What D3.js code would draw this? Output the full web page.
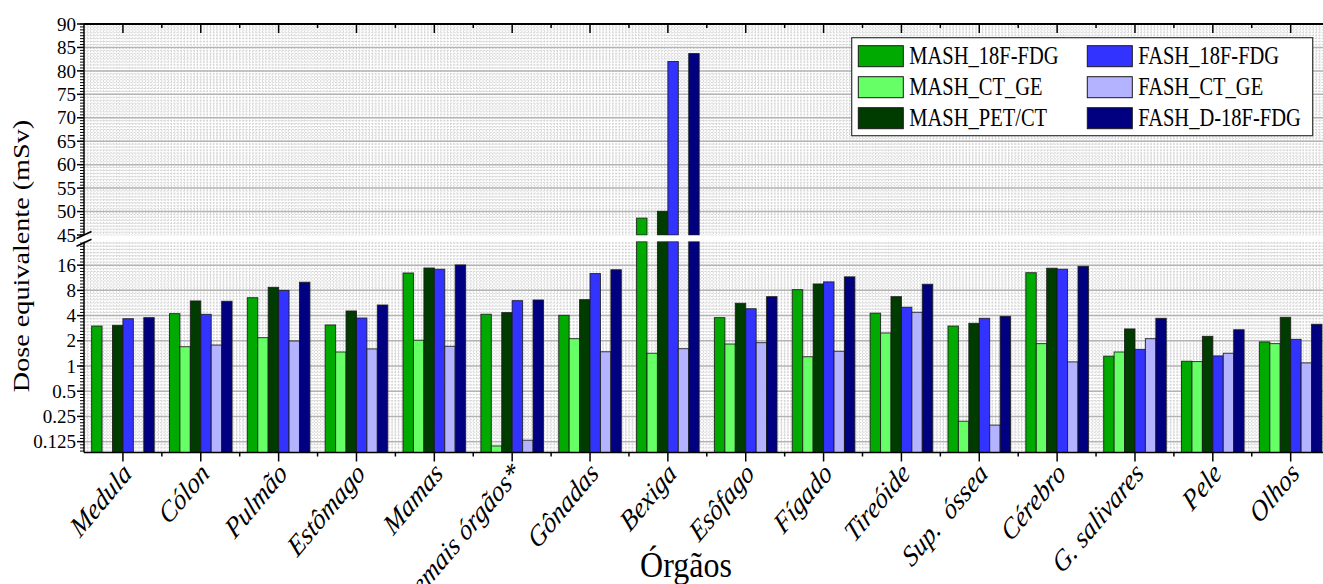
<!DOCTYPE html>
<html>
<head>
<meta charset="utf-8">
<script src="https://cdn.jsdelivr.net/npm/d3@7"></script>
<style>
  body { margin: 0; background: #fff; }
  text { font-family: "Liberation Serif", "Times New Roman", serif; fill: #000; }
</style>
</head>
<body>
<div id="chart"></div>
<script>
const orgaos = ["Medula", "Cólon", "Pulmão", "Estômago", "Mamas", "Demais órgãos*", "Gônadas", "Bexiga",
    "Esôfago", "Fígado", "Tireóide", "Sup.  óssea", "Cérebro", "G. salivares", "Pele", "Olhos"];

const mash18f = [3.0, 4.22, 6.54, 3.09, 12.9, 4.15, 4.03, 48.6, 3.78, 8.16, 4.27, 3.0, 13.0, 1.31, 1.14, 1.94];
const mashCt = [null, 1.70, 2.18, 1.47, 2.03, 0.111, 2.12, 1.42, 1.83, 1.29, 2.48, 0.219, 1.85, 1.47, 1.13, 1.85];
const mashPet = [3.06, 5.98, 8.7, 4.54, 14.8, 4.34, 6.2, 50.05, 5.61, 9.54, 6.73, 3.23, 14.7, 2.77, 2.26, 3.81];
const fash18f = [3.67, 4.14, 8.0, 3.74, 14.3, 6.03, 12.7, 82.0, 4.83, 10.1, 5.03, 3.71, 14.3, 1.58, 1.32, 2.08];
const fashCt = [null, 1.78, 1.99, 1.60, 1.72, 0.13, 1.48, 1.61, 1.90, 1.50, 4.38, 0.197, 1.12, 2.12, 1.42, 1.09];
const fashD18f = [3.78, 5.93, 10.0, 5.35, 16.1, 6.14, 14.1, 83.7, 6.73, 11.6, 9.46, 3.92, 15.5, 3.71, 2.71, 3.15];

const series = [
    {label: "MASH_18F-FDG", color: "#00aa00", values: mash18f},
    {label: "MASH_CT_GE", color: "#66ff66", values: mashCt},
    {label: "MASH_PET/CT", color: "#003c00", values: mashPet},
    {label: "FASH_18F-FDG", color: "#3333ff", values: fash18f},
    {label: "FASH_CT_GE", color: "#b3b3ff", values: fashCt},
    {label: "FASH_D-18F-FDG", color: "#000080", values: fashD18f}
];

const upperTicks = [45, 50, 55, 60, 65, 70, 75, 80, 85, 90];
const lowerTicks = [0.125, 0.25, 0.5, 1, 2, 4, 8, 16];

var W = 1323, H = 584;
var pLeft = 84, pRight = 84 + 16 * 77.85;
var pTop = 24, upBottom = 235, lowTop = 241.7, pBottom = 452.5;

var svg = d3.select("#chart").append("svg")
    .attr("width", W).attr("height", H);

var x = d3.scaleBand()
    .domain(orgaos)
    .range([pLeft, pRight])
    .paddingInner(0.196)
    .paddingOuter(0.098);
var xs = d3.scaleBand()
    .domain(series.map(d => d.label))
    .range([0, x.bandwidth()]);

var yUp = d3.scaleLinear().domain([45, 90]).range([upBottom, pTop]);
var yLow = d3.scaleLog().base(2).domain([0.0927, 30.5]).range([pBottom, lowTop]);

// minor ticks
var upMinor = d3.range(45, 90.001, 0.625);
var lowMinor = [];
for (var e = -32; e <= 40; e++) {
    var v = Math.pow(2, e / 8);
    if (v >= yLow.domain()[0] && v <= yLow.domain()[1]) lowMinor.push(v);
}

// dotted background grid
var grid = svg.append("g");
var step = x.step();
grid.selectAll(".vdot")
    .data(d3.range(pLeft + step / 24, Math.min(pRight, W), step / 24))
    .enter().append("line")
    .attr("x1", d => d).attr("x2", d => d)
    .attr("y1", pTop).attr("y2", pBottom)
    .attr("stroke", "#d4d4d4").attr("stroke-width", 1)
    .attr("stroke-dasharray", "2,1.3");
grid.selectAll(".hup")
    .data(upMinor)
    .enter().append("line")
    .attr("x1", pLeft).attr("x2", W)
    .attr("y1", d => yUp(d)).attr("y2", d => yUp(d))
    .attr("stroke", "#d4d4d4").attr("stroke-width", 1)
    .attr("stroke-dasharray", "2,1.3");
grid.selectAll(".hlow")
    .data(lowMinor)
    .enter().append("line")
    .attr("x1", pLeft).attr("x2", W)
    .attr("y1", d => yLow(d)).attr("y2", d => yLow(d))
    .attr("stroke", "#d4d4d4").attr("stroke-width", 1)
    .attr("stroke-dasharray", "2,1.3");

// major grid
grid.selectAll(".gup")
    .data(upperTicks.filter(d => d > 45 && d < 90))
    .enter().append("line")
    .attr("x1", pLeft).attr("x2", W)
    .attr("y1", d => yUp(d)).attr("y2", d => yUp(d))
    .attr("stroke", "#b4b4b4").attr("stroke-width", 1.5);
grid.selectAll(".glow")
    .data(lowerTicks)
    .enter().append("line")
    .attr("x1", pLeft).attr("x2", W)
    .attr("y1", d => yLow(d)).attr("y2", d => yLow(d))
    .attr("stroke", "#b4b4b4").attr("stroke-width", 1.5);

// Bars
var flat = [];
series.forEach(function(s) {
    s.values.forEach(function(v, i) {
        if (v != null) flat.push({cat: orgaos[i], key: s.label, color: s.color, value: v});
    });
});

var bars = svg.append("g");
bars.selectAll(".low")
    .data(flat)
    .enter().append("rect")
    .attr("x", d => x(d.cat) + xs(d.key))
    .attr("width", xs.bandwidth())
    .attr("y", d => yLow(Math.min(d.value, yLow.domain()[1])))
    .attr("height", d => pBottom - yLow(Math.min(d.value, yLow.domain()[1])))
    .attr("fill", d => d.color)
    .attr("stroke", "#1a1a1a").attr("stroke-opacity", 0.85).attr("stroke-width", 1);
bars.selectAll(".up")
    .data(flat.filter(d => d.value > 45))
    .enter().append("rect")
    .attr("x", d => x(d.cat) + xs(d.key))
    .attr("width", xs.bandwidth())
    .attr("y", d => yUp(d.value))
    .attr("height", d => upBottom - yUp(d.value))
    .attr("fill", d => d.color)
    .attr("stroke", "#1a1a1a").attr("stroke-opacity", 0.85).attr("stroke-width", 1);

// break band
svg.append("rect")
    .attr("x", pLeft - 1).attr("y", upBottom + 0.5)
    .attr("width", W).attr("height", lowTop - upBottom - 1)
    .attr("fill", "#fff");

// axes
var ax = svg.append("g").attr("stroke", "#000");
ax.append("line").attr("x1", pLeft).attr("x2", W).attr("y1", pTop).attr("y2", pTop).attr("stroke-width", 2);
ax.append("line").attr("x1", pLeft).attr("x2", W).attr("y1", pBottom).attr("y2", pBottom).attr("stroke-width", 1.5);
ax.append("line").attr("x1", pLeft).attr("x2", pLeft).attr("y1", pTop).attr("y2", upBottom).attr("stroke-width", 1.5);
ax.append("line").attr("x1", pLeft).attr("x2", pLeft).attr("y1", lowTop).attr("y2", pBottom).attr("stroke-width", 1.5);

var majorX = orgaos.map(d => x(d) + x.bandwidth() / 2);
var minorX = d3.range(1, 17).map(i => pLeft + i * step);
ax.selectAll(".tmaj").data(majorX).enter().append("line")
    .attr("x1", d => d).attr("x2", d => d).attr("y1", pTop).attr("y2", pTop + 9).attr("stroke-width", 1.5);
ax.selectAll(".tmin").data(minorX).enter().append("line")
    .attr("x1", d => d).attr("x2", d => d).attr("y1", pTop).attr("y2", pTop + 4).attr("stroke-width", 1.5);
ax.selectAll(".bmaj").data(majorX).enter().append("line")
    .attr("x1", d => d).attr("x2", d => d).attr("y1", pBottom).attr("y2", pBottom + 9).attr("stroke-width", 1.5);
ax.selectAll(".bmin").data(minorX).enter().append("line")
    .attr("x1", d => d).attr("x2", d => d).attr("y1", pBottom).attr("y2", pBottom + 4).attr("stroke-width", 1.5);

ax.selectAll(".lmu").data(upMinor).enter().append("line")
    .attr("x1", pLeft - 4).attr("x2", pLeft).attr("y1", d => yUp(d)).attr("y2", d => yUp(d)).attr("stroke-width", 1);
ax.selectAll(".lml").data(lowMinor).enter().append("line")
    .attr("x1", pLeft - 4).attr("x2", pLeft).attr("y1", d => yLow(d)).attr("y2", d => yLow(d)).attr("stroke-width", 1);
ax.selectAll(".lMu").data(upperTicks).enter().append("line")
    .attr("x1", pLeft - 7).attr("x2", pLeft).attr("y1", d => yUp(d)).attr("y2", d => yUp(d)).attr("stroke-width", 1.5);
ax.selectAll(".lMl").data(lowerTicks).enter().append("line")
    .attr("x1", pLeft - 7).attr("x2", pLeft).attr("y1", d => yLow(d)).attr("y2", d => yLow(d)).attr("stroke-width", 1.5);

// break marks
[upBottom, lowTop + 1].forEach(function(yb) {
    ax.append("line")
        .attr("x1", pLeft - 7.5).attr("y1", yb + 3.5)
        .attr("x2", pLeft + 7.5).attr("y2", yb - 3.5)
        .attr("stroke-width", 1.6);
});

// tick labels
svg.selectAll(".yu").data(upperTicks).enter().append("text")
    .attr("x", 76).attr("y", d => yUp(d)).attr("dy", "0.35em")
    .attr("text-anchor", "end").style("font-size", "19px")
    .text(d => d);
svg.selectAll(".yl").data(lowerTicks).enter().append("text")
    .attr("x", 76).attr("y", d => yLow(d)).attr("dy", "0.35em")
    .attr("text-anchor", "end").style("font-size", "19px")
    .text(d => d);

svg.selectAll(".xl").data(orgaos).enter().append("text")
    .attr("transform", d => "translate(" + (x(d) + x.bandwidth() / 2 + 10) + "," + 475 + ") scale(1,1.2) rotate(-45)")
    .attr("text-anchor", "end")
    .style("font-size", "24.5px")
    .style("font-style", "italic")
    .style("white-space", "pre")
    .text(d => d);

// axis titles
svg.append("text")
    .attr("transform", "translate(29,256) scale(1,1.2) rotate(-90)")
    .attr("text-anchor", "middle")
    .style("font-size", "23.5px")
    .text("Dose equivalente (mSv)");
svg.append("text")
    .attr("transform", "translate(686,577) scale(1,1.15)")
    .attr("text-anchor", "middle")
    .style("font-size", "32px")
    .text("Órgãos");

// legend
var lg = svg.append("g");
lg.append("rect")
    .attr("x", 851.7).attr("y", 37.7).attr("width", 461).attr("height", 98)
    .attr("fill", "#fff").attr("stroke", "#333").attr("stroke-width", 1.2);
var item = lg.selectAll(".item").data(series).enter().append("g")
    .attr("transform", (d, i) => "translate(" + (i < 3 ? 858.3 : 1087.3) + "," + (45.7 + (i % 3) * 31) + ")");
item.append("rect")
    .attr("width", 45).attr("height", 21)
    .attr("fill", d => d.color)
    .attr("stroke", "#1a1a1a").attr("stroke-width", 1);
item.append("text")
    .attr("transform", "translate(51,18.6) scale(1,1.22)")
    .style("font-size", "20.5px")
    .text(d => d.label);
</script>
</body>
</html>
